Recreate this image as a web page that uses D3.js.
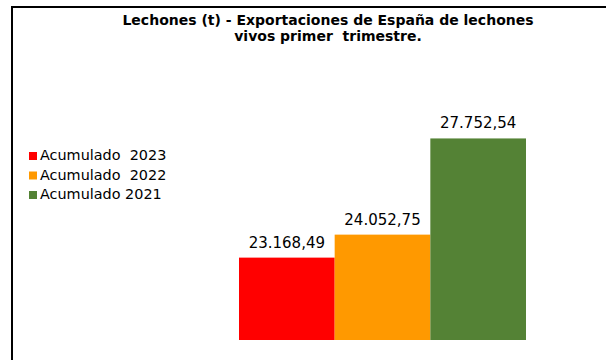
<!DOCTYPE html>
<html>
<head>
<meta charset="utf-8">
<script src="https://cdn.jsdelivr.net/npm/d3@7"></script>
<style>
  html, body { margin: 0; padding: 0; background: #fff; }
  svg { display: block; }
  text { font-family: "DejaVu Sans", Verdana, sans-serif; }
</style>
</head>
<body>
<svg id="chart" width="606" height="360"></svg>
<script>
// Exportaciones de lechones vivos, primer trimestre (toneladas)
const series = ["Acumulado  2023", "Acumulado  2022", "Acumulado 2021"];
const values = [23168.49, 24052.75, 27752.54];
const colors = ["#FF0000", "#FF9900", "#548235"];
const titleLines = ["Lechones (t) - Exportaciones de España de lechones", "vivos primer  trimestre."];

const svg = d3.select("#chart");

// Outer frame (only its top and left edges fall inside the view)
svg.append("rect")
  .attr("x", 12).attr("y", 7)
  .attr("width", 800).attr("height", 800)
  .attr("fill", "none")
  .attr("stroke", "#000")
  .attr("stroke-width", 2);

// Title
svg.append("g").selectAll("text")
  .data(titleLines)
  .join("text")
  .attr("x", 328)
  .attr("y", (d, i) => 25 + i * 16)
  .attr("text-anchor", "middle")
  .attr("font-size", 14)
  .attr("font-weight", "bold")
  .attr("fill", "#000")
  .attr("xml:space", "preserve")
  .style("white-space", "pre")
  .text(d => d);

// Scales
const x = d3.scaleBand().domain(series).range([239, 526]).padding(0);
const y = d3.scaleLinear().domain([20000, 30000]).range([340, 80]);

const es = d3.formatLocale({ decimal: ",", thousands: ".", grouping: [3], currency: ["", " €"] });
const fmt = es.format(",.2f");

// Bars
svg.append("g").selectAll("rect")
  .data(series)
  .join("rect")
  .attr("x", d => x(d))
  .attr("y", (d, i) => y(values[i]))
  .attr("width", x.bandwidth())
  .attr("height", (d, i) => y.range()[0] - y(values[i]))
  .attr("fill", (d, i) => colors[i]);

// Value labels
svg.append("g").selectAll("text")
  .data(series)
  .join("text")
  .attr("x", d => x(d) + x.bandwidth() / 2)
  .attr("y", (d, i) => y(values[i]) - 10)
  .attr("text-anchor", "middle")
  .attr("font-size", 15)
  .attr("fill", "#000")
  .text((d, i) => fmt(values[i]));

// Legend
const legend = svg.append("g").attr("transform", "translate(29,152)");
const item = legend.selectAll("g")
  .data(series)
  .join("g")
  .attr("transform", (d, i) => `translate(0,${i * 19.5})`);
item.append("rect")
  .attr("width", 8).attr("height", 8)
  .attr("fill", (d, i) => colors[i]);
item.append("text")
  .attr("x", 11)
  .attr("y", 8)
  .attr("font-size", 14.4)
  .attr("fill", "#000")
  .attr("xml:space", "preserve")
  .style("white-space", "pre")
  .text(d => d);
</script>
</body>
</html>
